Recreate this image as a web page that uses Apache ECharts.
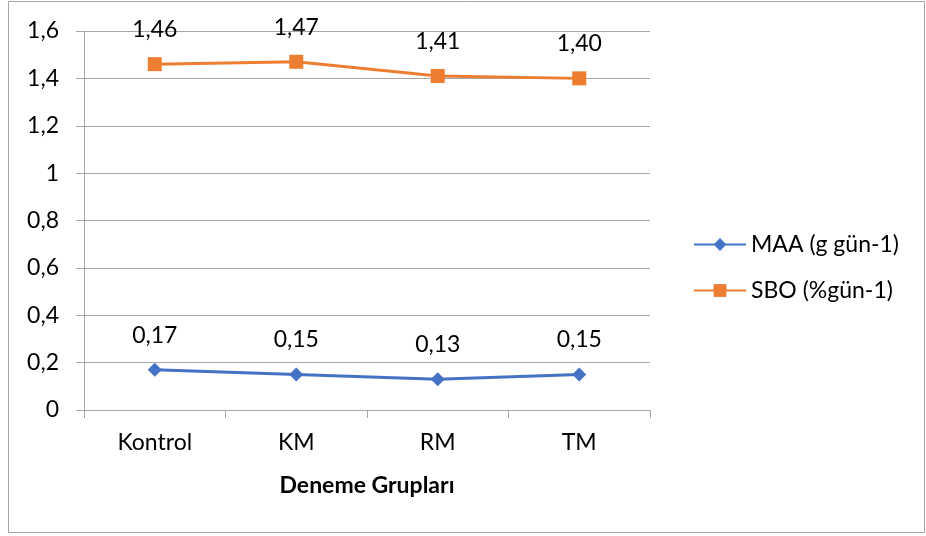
<!DOCTYPE html>
<html><head><meta charset="utf-8">
<script src="https://cdn.jsdelivr.net/npm/echarts@6/dist/echarts.min.js"></script>
<style>html,body{margin:0;padding:0;background:#fff}#c{width:926px;height:536px}</style>
</head><body><div id="c"></div>
<script>
const categories = ['Kontrol', 'KM', 'RM', 'TM'];
const maaValues = [0.17, 0.15, 0.13, 0.15];
const sboValues = [1.46, 1.47, 1.41, 1.40];
const seriesNames = ['MAA (g gün-1)', 'SBO (%gün-1)'];
const xAxisTitle = 'Deneme Grupları';

const font = 'Lato, "Open Sans", sans-serif';
const fs = 23;
const chart = echarts.init(document.getElementById('c'), null, {renderer: 'canvas'});
const fmt = v => String(v).replace('.', ',');
const lbl = {show: true, position: 'top', distance: 16, fontSize: fs, fontFamily: font, color: '#000',
  formatter: p => p.value.toFixed(2).replace('.', ',')};
chart.setOption({
  animation: false,
  graphic: [{type: 'rect', shape: {x: 8.5, y: 1.5, width: 916, height: 531},
    style: {fill: 'none', stroke: '#a6a6a6', lineWidth: 1}, silent: true}],
  grid: {left: 84, right: 276, top: 31, bottom: 126, containLabel: false},
  legend: {orient: 'vertical', left: 688, top: 228, itemGap: 23, itemWidth: 52, itemHeight: 16,
    textStyle: {fontSize: fs, fontFamily: font, color: '#000'}, data: seriesNames},
  xAxis: {type: 'category', data: categories, boundaryGap: true,
    name: xAxisTitle, nameLocation: 'middle', nameGap: 64,
    nameTextStyle: {fontSize: fs, fontWeight: 'bold', fontFamily: font, color: '#000'},
    axisLine: {lineStyle: {color: '#a6a6a6', width: 1}},
    axisTick: {show: true, length: 8, lineStyle: {color: '#a6a6a6'}},
    axisLabel: {fontSize: fs, fontFamily: font, color: '#000', margin: 21}},
  yAxis: {type: 'value', min: 0, max: 1.6, interval: 0.2,
    axisLine: {show: true, lineStyle: {color: '#a6a6a6', width: 1}},
    axisTick: {show: true, length: 8, lineStyle: {color: '#a6a6a6'}},
    splitLine: {lineStyle: {color: '#a6a6a6', width: 1}},
    axisLabel: {fontSize: fs, fontFamily: font, color: '#000', margin: 25,
      formatter: v => fmt(Math.round(v * 10) / 10)}},
  series: [
    {name: seriesNames[0], type: 'line', data: maaValues, symbol: 'diamond', symbolSize: 14,
      lineStyle: {color: '#4472C4', width: 3}, itemStyle: {color: '#4472C4'}, label: lbl},
    {name: seriesNames[1], type: 'line', data: sboValues, symbol: 'rect', symbolSize: 14,
      lineStyle: {color: '#ED7D31', width: 3}, itemStyle: {color: '#ED7D31'}, label: lbl}
  ]
});
</script></body></html>
